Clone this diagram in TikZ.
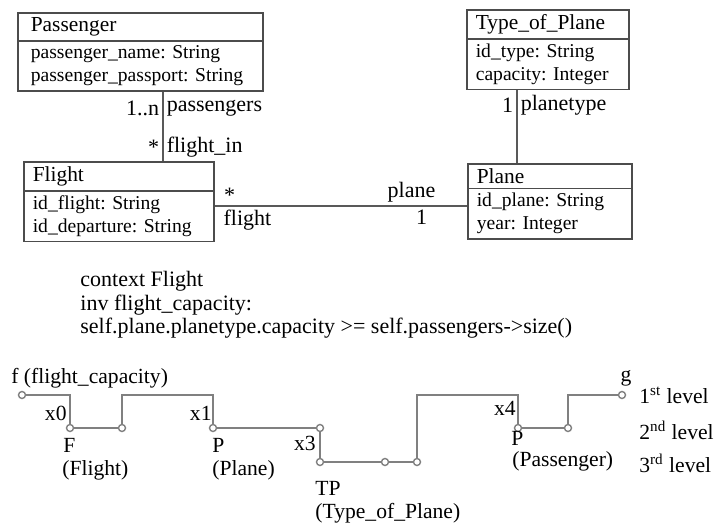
\documentclass[tikz,border=0pt]{standalone}
\usepackage{fontspec}
\setmainfont{Liberation Serif}
\usetikzlibrary{positioning,shapes.multipart}
\newcommand{\clsname}{\fontsize{10.7}{12}\selectfont}
\frenchspacing

\begin{document}
\begin{tikzpicture}[x=0.5pt,y=-0.5pt,
	umlclass/.style={rectangle split,rectangle split parts=2,draw=black!70,line width=0.8pt,inner xsep=4.5pt,inner ysep=2pt,align=left,anchor=north west,font=\fontsize{9.8}{11.5}\selectfont},
	assoc/.style={draw=black!65,line width=0.8pt},
	lbl/.style={font=\fontsize{11}{13}\selectfont,inner sep=1.5pt},
	wire/.style={draw=black!50,line width=0.7pt},
	knot/.style={circle,draw=black!50,fill=white,line width=0.7pt,inner sep=0pt,minimum size=3.5pt},
	txt/.style={font=\fontsize{10.8}{13}\selectfont,inner sep=0pt}]
	\useasboundingbox (0,0) rectangle (714,524);
	
	% class diagram
	\node[umlclass,inner xsep=6.5pt,text width=109.5pt] (passenger) at (17,12) {\clsname Passenger\nodepart{two}passenger\_name: String\\passenger\_passport: String};
	\node[umlclass,text width=86pt] (flight) at (23,161) {\clsname Flight\nodepart{two}id\_flight: String\\id\_departure: String};
	\node[umlclass,text width=72pt] (planetype) at (466,9) {\clsname Type\_of\_Plane\nodepart{two}id\_type: String\\capacity: Integer};
	\node[umlclass,text width=73pt] (plane) at (467,163) {\clsname Plane\nodepart{two}id\_plane: String\\year: Integer};
	
	\draw[assoc] (passenger.south west) ++(146,0) coordinate (pf) -- (pf |- flight.north)
		node[lbl,pos=0.24,left] (m1) {1..n} node[lbl,pos=0.24,right] (r1) {passengers}
		node[lbl,pos=0.8,left] (m2) {*} node[lbl,pos=0.8,right] (r2) {flight\_in};
	\coordinate (fp) at (0,206);
	\draw[assoc] (flight.east |- fp) -- (plane.west |- fp)
		node[lbl,pos=0.06,above] (m3) {*} node[lbl,pos=0.13,below] (r3) {flight}
		node[lbl,pos=0.78,above] (r4) {plane} node[lbl,pos=0.82,below] (m4) {1};
	\draw[assoc] (planetype.south west) ++(51,0) coordinate (tpp) -- (tpp |- plane.north)
		node[lbl,pos=0.2,left] (m5) {1} node[lbl,pos=0.2,right] (r5) {planetype};
	
	% OCL constraint
	\node[anchor=north west,align=left,inner sep=0pt,font=\fontsize{11}{11.75}\selectfont] (ocl) at (80,271)
		{context Flight\\inv flight\_capacity:\\self.plane.planetype.capacity >= self.passengers->size()};
	
	% navigation path
	\foreach \nm/\px/\py in {f/22/395,nF/70/428,nFo/122/428,nP/213/428,nPo/320/428,nTP/320/462,nTPa/385/462,nTPo/417/462,nPa/518/428,nPao/568/428,g/622/395}{%
		\node[knot] (\nm) at (\px,\py) {};
	}
	\draw[wire] (f) -| (nF);
	\draw[wire] (nF) -- (nFo);
	\draw[wire] (nFo) |- (nP |- f) -- (nP);
	\draw[wire] (nP) -- (nPo);
	\draw[wire] (nPo) -- (nTP);
	\draw[wire] (nTP) -- (nTPa) -- (nTPo);
	\draw[wire] (nTPo) |- (nPa |- f) -- (nPa);
	\draw[wire] (nPa) -- (nPao);
	\draw[wire] (nPao) |- (g);
	
	\node[txt,anchor=west] (tf) at (11,378) {f (flight\_capacity)};
	\node[txt] (tg) at (626,378) {g};
	\node[txt,anchor=east] (x0) at (67,413) {x0};
	\node[txt,anchor=east] (x1) at (212,413) {x1};
	\node[txt,anchor=east] (x3) at (316,443) {x3};
	\node[txt,anchor=east] (x4) at (516,408) {x4};
	\node[txt,anchor=base west] (tF) at (63,453) {F};
	\node[txt,anchor=base west] (tFlight) at (62,476) {(Flight)};
	\node[txt,anchor=base west] (tP) at (212,453) {P};
	\node[txt,anchor=base west] (tPlane) at (212,476) {(Plane)};
	\node[txt,anchor=base west] (tTP) at (315,495) {TP};
	\node[txt,anchor=base west] (tType) at (315,519) {(Type\_of\_Plane)};
	\node[txt,anchor=base west] (tPa) at (511,446) {P};
	\node[txt,anchor=base west] (tPassenger) at (512,467) {(Passenger)};
	\node[txt,anchor=west] (lv1) at (639,395) {1\textsuperscript{st} level};
	\node[txt,anchor=west] (lv2) at (639,430) {2\textsuperscript{nd} level};
	\node[txt,anchor=west] (lv3) at (639,463) {3\textsuperscript{rd} level};
\end{tikzpicture}
\end{document}
